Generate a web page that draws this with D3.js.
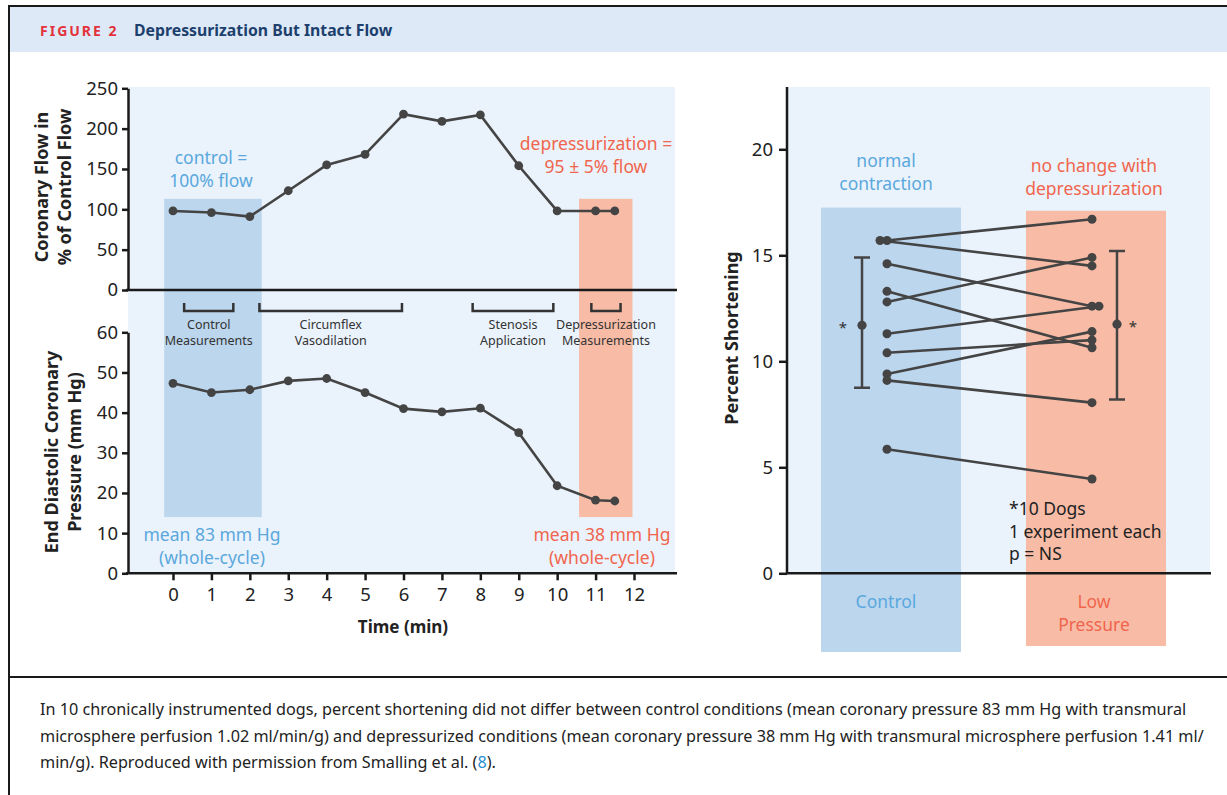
<!DOCTYPE html>
<html>
<head>
<meta charset="utf-8">
<script src="https://cdn.jsdelivr.net/npm/d3@7"></script>
<style>
  body { margin: 0; background: #fff; }
  svg { display: block; font-family: "Noto Sans", "Open Sans", sans-serif; }
</style>
</head>
<body>
<svg id="chart" width="1227" height="795"></svg>
<script>
// ---- data ----
var times = [0, 1, 2, 3, 4, 5, 6, 7, 8, 9, 10, 11, 11.5];
var flowValues = [98, 96, 91, 123, 155, 168, 218, 209, 217, 154, 98, 98, 98];
var pressureValues = [47.3, 45, 45.7, 47.9, 48.5, 45, 41, 40.2, 41.1, 35, 21.8, 18.2, 18];
var flowTicks = [0, 50, 100, 150, 200, 250];
var pressureTicks = [0, 10, 20, 30, 40, 50, 60];
var timeTicks = [0, 1, 2, 3, 4, 5, 6, 7, 8, 9, 10, 11, 12];

// shaded phases: [start, end] in minutes, top in % flow, bottom in mm Hg
var phaseStart = [-0.23, 10.57];
var phaseEnd = [2.31, 11.96];
var phaseTop = [113, 113];
var phaseBottom = [14, 14];

// brackets under the flow panel
var bracketStart = [0.29, 2.25, 7.8, 10.89];
var bracketEnd = [1.57, 5.96, 9.9, 11.65];
var bracketLabels = [["Control", "Measurements"], ["Circumflex", "Vasodilation"],
                     ["Stenosis", "Application"], ["Depressurization", "Measurements"]];

// right panel: percent shortening, paired per dog
var groups = ["Control", "Low Pressure"];
var controlPS = [15.7, 15.7, 14.6, 13.3, 12.8, 11.3, 10.4, 9.4, 9.1, 5.85];
var lowPS = [16.7, 14.5, 12.6, 10.64, 14.9, 12.6, 11.0, 11.4, 8.05, 4.45];
var groupMean = [11.7, 11.75];
var groupLow = [8.75, 8.2];
var groupHigh = [14.9, 15.2];
var barTop = [17.25, 17.1];
var psTicks = [0, 5, 10, 15, 20];

var BLUE_BAND = "#bcd6ee", ORANGE_BAND = "#f8bca6", PANEL = "#eaf2fb";
var BLUE_TXT = "#5aa8dd", ORANGE_TXT = "#f0654d", INK = "#444", AXIS = "#1a1a1a";

var svg = d3.select("#chart");

// ---- frame + header ----
svg.append("rect").attr("x", 9).attr("y", 6).attr("width", 1230).attr("height", 800)
  .attr("fill", "none").attr("stroke", AXIS).attr("stroke-width", 2);
svg.append("rect").attr("x", 10).attr("y", 7).attr("width", 1217).attr("height", 45).attr("fill", "#dde9f6");
svg.append("text").attr("x", 40).attr("y", 36).attr("fill", "#e3323b")
  .attr("font-size", 14).attr("font-weight", 700).attr("letter-spacing", 2).text("FIGURE 2");
svg.append("text").attr("x", 134).attr("y", 36).attr("fill", "#1c3f6e")
  .attr("font-size", 15.8).attr("font-weight", 700).text("Depressurization But Intact Flow");
svg.append("line").attr("x1", 9).attr("x2", 1227).attr("y1", 677).attr("y2", 677)
  .attr("stroke", AXIS).attr("stroke-width", 2);

// ---- left panel ----
var x = d3.scaleLinear().domain([0, 12]).range([173, 634]);
var yFlow = d3.scaleLinear().domain([0, 250]).range([290, 88.3]);
var yPress = d3.scaleLinear().domain([0, 60]).range([573.3, 332.3]);

var left = svg.append("g");
left.append("rect").attr("x", 128).attr("y", 87).attr("width", 547).attr("height", 486).attr("fill", PANEL);

left.selectAll("rect.phase").data(phaseStart).enter().append("rect")
  .attr("class", "phase")
  .attr("x", function (d) { return x(d); })
  .attr("width", function (d, i) { return x(phaseEnd[i]) - x(d); })
  .attr("y", function (d, i) { return yFlow(phaseTop[i]); })
  .attr("height", function (d, i) { return yPress(phaseBottom[i]) - yFlow(phaseTop[i]); })
  .attr("fill", function (d, i) { return i === 0 ? BLUE_BAND : ORANGE_BAND; });

function styleAxis(g) {
  g.select(".domain").attr("stroke", AXIS).attr("stroke-width", 2.5);
  g.selectAll(".tick line").attr("stroke", AXIS).attr("stroke-width", 2.5);
  g.selectAll(".tick text").attr("fill", "#222").attr("font-size", 18.5).attr("font-family", "Noto Sans");
}

left.append("g").attr("transform", "translate(128,0)")
  .call(d3.axisLeft(yFlow).tickValues(flowTicks).tickSize(6).tickSizeOuter(0).tickPadding(4))
  .call(styleAxis);
left.append("g").attr("transform", "translate(128,0)")
  .call(d3.axisLeft(yPress).tickValues(pressureTicks).tickSize(6).tickSizeOuter(0).tickPadding(4))
  .call(styleAxis);
left.append("line").attr("x1", 126).attr("x2", 677).attr("y1", yFlow(0)).attr("y2", yFlow(0))
  .attr("stroke", AXIS).attr("stroke-width", 2.5);
var xAxis = left.append("g").attr("transform", "translate(0," + yPress(0) + ")")
  .call(d3.axisBottom(x).tickValues(timeTicks).tickSize(7).tickSizeOuter(0).tickPadding(8))
  .call(styleAxis);
xAxis.select(".domain").remove();
left.append("line").attr("x1", 126).attr("x2", 677).attr("y1", yPress(0)).attr("y2", yPress(0))
  .attr("stroke", AXIS).attr("stroke-width", 2.5);

left.append("text").attr("x", 403).attr("y", 633).attr("text-anchor", "middle")
  .attr("font-size", 17).attr("font-weight", 700).attr("fill", "#222").text("Time (min)");

function rotLabel(g, cx, cy, lines, gap) {
  var t = g.append("text").attr("transform", "translate(" + cx + "," + cy + ") rotate(-90)")
    .attr("text-anchor", "middle").attr("font-size", 18).attr("font-weight", 700).attr("fill", "#222");
  lines.forEach(function (s, i) {
    t.append("tspan").attr("x", 0).attr("y", i * gap).text(s);
  });
}
rotLabel(left, 48, 187, ["Coronary Flow in", "% of Control Flow"], 23);
rotLabel(left, 58, 452, ["End Diastolic Coronary", "Pressure (mm Hg)"], 23);

// brackets
var br = left.selectAll("g.bracket").data(bracketStart).enter().append("g").attr("class", "bracket");
br.append("path")
  .attr("d", function (d, i) {
    var a = x(d), b = x(bracketEnd[i]);
    return "M" + a + ",303 V311 H" + b + " V303";
  })
  .attr("fill", "none").attr("stroke", "#333").attr("stroke-width", 2.5);
br.append("text")
  .attr("x", function (d, i) { return (x(d) + x(bracketEnd[i])) / 2; })
  .attr("text-anchor", "middle").attr("font-size", 12.5).attr("fill", "#333")
  .each(function (d, i) {
    var t = d3.select(this);
    bracketLabels[i].forEach(function (s, j) {
      t.append("tspan").attr("x", t.attr("x")).attr("y", 329 + j * 16).text(s);
    });
  });

var flowData = times.map(function (t, i) { return { t: t, v: flowValues[i] }; });
var pressData = times.map(function (t, i) { return { t: t, v: pressureValues[i] }; });

function drawSeries(data, ys) {
  left.append("path").datum(data)
    .attr("d", d3.line().x(function (d) { return x(d.t); }).y(function (d) { return ys(d.v); }))
    .attr("fill", "none").attr("stroke", INK).attr("stroke-width", 2.6);
  left.selectAll(null).data(data).enter().append("circle")
    .attr("cx", function (d) { return x(d.t); })
    .attr("cy", function (d) { return ys(d.v); })
    .attr("r", 4.4).attr("fill", INK);
}
drawSeries(flowData, yFlow);
drawSeries(pressData, yPress);

function note(g, cx, y0, lines, color, size) {
  var t = g.append("text").attr("text-anchor", "middle").attr("font-size", size || 17.5).attr("fill", color);
  lines.forEach(function (s, i) {
    t.append("tspan").attr("x", cx).attr("y", y0 + i * 23).text(s);
  });
}
note(left, 211, 164, ["control =", "100% flow"], BLUE_TXT);
note(left, 596, 150, ["depressurization =", "95 ± 5% flow"], ORANGE_TXT);
note(left, 212, 541, ["mean 83 mm Hg", "(whole-cycle)"], BLUE_TXT);
note(left, 602, 541, ["mean 38 mm Hg", "(whole-cycle)"], ORANGE_TXT);

// ---- right panel ----
var gx = d3.scaleBand().domain(groups).range([821, 1166]).paddingInner(0.317);
var yPS = d3.scaleLinear().domain([0, 20]).range([573.3, 149.3]);
var right = svg.append("g");
right.append("rect").attr("x", 787).attr("y", 87).attr("width", 423).attr("height", 486).attr("fill", PANEL);

var barBottom = [652, 646];
right.selectAll("rect.bar").data(groups).enter().append("rect")
  .attr("class", "bar")
  .attr("x", function (d) { return gx(d); })
  .attr("width", gx.bandwidth())
  .attr("y", function (d, i) { return yPS(barTop[i]); })
  .attr("height", function (d, i) { return barBottom[i] - yPS(barTop[i]); })
  .attr("fill", function (d, i) { return i === 0 ? BLUE_BAND : ORANGE_BAND; });

right.append("g").attr("transform", "translate(787,0)")
  .call(d3.axisLeft(yPS).tickValues(psTicks).tickSize(8).tickSizeOuter(0).tickPadding(6))
  .call(styleAxis)
  .select(".domain").attr("d", "M0,87V573.3");
right.append("line").attr("x1", 786).attr("x2", 1211).attr("y1", yPS(0)).attr("y2", yPS(0))
  .attr("stroke", AXIS).attr("stroke-width", 2.5);

rotLabel(right, 738, 338, ["Percent Shortening"], 0);

// paired dots; a second identical value is nudged outward
function dodge(vals, dir) {
  var seen = {};
  return vals.map(function (v) {
    var k = v.toFixed(2), n = seen[k] || 0;
    seen[k] = n + 1;
    return n * 7 * dir;
  });
}
var cShift = dodge(controlPS, -1), lShift = dodge(lowPS, 1);
var cx0 = gx("Control") + gx.bandwidth() / 2 - 4;
var cx1 = gx("Low Pressure") + gx.bandwidth() / 2 - 4;
var pairs = controlPS.map(function (v, i) {
  return { a: v, b: lowPS[i], xa: cx0 + cShift[i], xb: cx1 + lShift[i] };
});
right.selectAll("line.pair").data(pairs).enter().append("line")
  .attr("x1", function (d) { return d.xa; }).attr("y1", function (d) { return yPS(d.a); })
  .attr("x2", function (d) { return d.xb; }).attr("y2", function (d) { return yPS(d.b); })
  .attr("stroke", INK).attr("stroke-width", 2.6);
right.selectAll("circle.a").data(pairs).enter().append("circle")
  .attr("cx", function (d) { return d.xa; }).attr("cy", function (d) { return yPS(d.a); })
  .attr("r", 4.5).attr("fill", INK);
right.selectAll("circle.b").data(pairs).enter().append("circle")
  .attr("cx", function (d) { return d.xb; }).attr("cy", function (d) { return yPS(d.b); })
  .attr("r", 4.5).attr("fill", INK);

// mean +/- error bars
var errX = [gx("Control") + gx.bandwidth() / 2 - 29, gx("Low Pressure") + gx.bandwidth() / 2 + 21];
var starDx = [-19, 16];
groups.forEach(function (g, i) {
  var ex = errX[i];
  right.append("path")
    .attr("d", "M" + ex + "," + yPS(groupLow[i]) + "V" + yPS(groupHigh[i]) +
      "M" + (ex - 8) + "," + yPS(groupLow[i]) + "H" + (ex + 8) +
      "M" + (ex - 8) + "," + yPS(groupHigh[i]) + "H" + (ex + 8))
    .attr("stroke", INK).attr("stroke-width", 2.5).attr("fill", "none");
  right.append("circle").attr("cx", ex).attr("cy", yPS(groupMean[i])).attr("r", 4.6).attr("fill", INK);
  right.append("text").attr("x", ex + starDx[i]).attr("y", yPS(groupMean[i]) + 8)
    .attr("text-anchor", "middle").attr("font-size", 15).attr("fill", "#333").text("*");
});

note(right, 886, 167, ["normal", "contraction"], BLUE_TXT);
note(right, 1094, 172, ["no change with", "depressurization"], ORANGE_TXT);
note(right, 886, 608, ["Control"], BLUE_TXT);
note(right, 1094, 608, ["Low", "Pressure"], ORANGE_TXT);

var foot = right.append("text").attr("font-size", 17.5).attr("fill", "#222");
["*10 Dogs", "1 experiment each", "p = NS"].forEach(function (s, i) {
  foot.append("tspan").attr("x", 1009).attr("y", 515 + i * 22.5).text(s);
});

// ---- caption ----
var capLines = [
  "In 10 chronically instrumented dogs, percent shortening did not differ between control conditions (mean coronary pressure 83 mm Hg with transmural",
  "microsphere perfusion 1.02 ml/min/g) and depressurized conditions (mean coronary pressure 38 mm Hg with transmural microsphere perfusion 1.41 ml/"
];
capLines.forEach(function (s, i) {
  svg.append("text").attr("x", 40).attr("y", 715 + i * 26.5).attr("font-size", 16.2)
    .attr("fill", "#222").text(s);
});
var last = svg.append("text").attr("x", 40).attr("y", 768).attr("font-size", 16.2).attr("fill", "#222");
last.append("tspan").text("min/g). Reproduced with permission from Smalling et al. (");
last.append("tspan").attr("fill", "#2a8fd0").text("8");
last.append("tspan").text(").");
</script>
</body>
</html>
